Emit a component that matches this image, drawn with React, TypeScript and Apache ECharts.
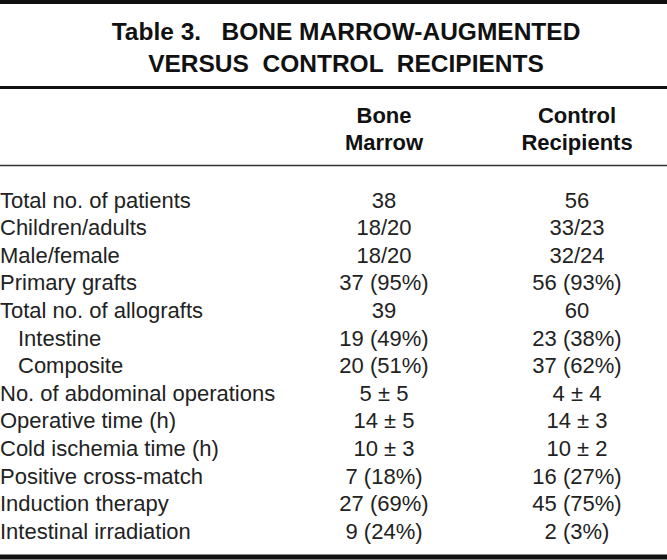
import React, { useEffect, useRef } from "react";
import * as echarts from "echarts";

const titleLines = ["Table 3.   BONE MARROW-AUGMENTED", "VERSUS  CONTROL  RECIPIENTS"];
const columnHeaders = [["Bone", "Marrow"], ["Control", "Recipients"]];
const rowLabels = [
  "Total no. of patients",
  "Children/adults",
  "Male/female",
  "Primary grafts",
  "Total no. of allografts",
  "Intestine",
  "Composite",
  "No. of abdominal operations",
  "Operative time (h)",
  "Cold ischemia time (h)",
  "Positive cross-match",
  "Induction therapy",
  "Intestinal irradiation",
];
const indented = [false, false, false, false, false, true, true, false, false, false, false, false, false];
const boneMarrow = ["38", "18/20", "18/20", "37 (95%)", "39", "19 (49%)", "20 (51%)", "5 ± 5", "14 ± 5", "10 ± 3", "7 (18%)", "27 (69%)", "9 (24%)"];
const control = ["56", "33/23", "32/24", "56 (93%)", "60", "23 (38%)", "37 (62%)", "4 ± 4", "14 ± 3", "10 ± 2", "16 (27%)", "45 (75%)", "2 (3%)"];

export default function App() {
  const ref = useRef<HTMLDivElement>(null);
  useEffect(() => {
    if (!ref.current) return;
    const chart = echarts.init(ref.current, undefined, { renderer: "svg" });
    const W = 667;
    const font = "'Liberation Sans', Arial, Helvetica, sans-serif";
    const col1 = 384;
    const col2 = 577;
    const rowY0 = 200;
    const rowStep = 27.6;
    const elements: any[] = [];
    const hline = (y: number, w: number, color: string) => ({
      type: "line",
      shape: { x1: 0, y1: y, x2: W, y2: y },
      style: { stroke: color, lineWidth: w },
    });
    elements.push(hline(2, 4, "#111"));
    elements.push(hline(87.5, 3, "#111"));
    elements.push(hline(165.5, 1.5, "#333"));
    elements.push(hline(557, 5, "#111"));
    titleLines.forEach((t, i) => {
      elements.push({
        type: "text",
        x: 346,
        y: 31 + i * 32,
        style: {
          text: t,
          fill: "#111",
          font: `bold 24.5px ${font}`,
          textAlign: "center",
          textVerticalAlign: "middle",
        },
      });
    });
    columnHeaders.forEach((h, ci) => {
      h.forEach((t, li) => {
        elements.push({
          type: "text",
          x: ci === 0 ? col1 : col2,
          y: 115 + li * 27,
          style: {
            text: t,
            fill: "#111",
            font: `bold 22px ${font}`,
            textAlign: "center",
            textVerticalAlign: "middle",
          },
        });
      });
    });
    rowLabels.forEach((lab, i) => {
      const y = rowY0 + i * rowStep;
      elements.push({
        type: "text",
        x: indented[i] ? 18 : 0,
        y,
        style: { text: lab, fill: "#222", font: `22px ${font}`, textAlign: "left", textVerticalAlign: "middle" },
      });
      elements.push({
        type: "text",
        x: col1,
        y,
        style: { text: boneMarrow[i], fill: "#222", font: `22px ${font}`, textAlign: "center", textVerticalAlign: "middle" },
      });
      elements.push({
        type: "text",
        x: col2,
        y,
        style: { text: control[i], fill: "#222", font: `22px ${font}`, textAlign: "center", textVerticalAlign: "middle" },
      });
    });
    chart.setOption({ animation: false, graphic: { elements } });
    return () => chart.dispose();
  }, []);
  return (
    <div
      ref={ref}
      style={{ position: "fixed", left: 0, top: 0, width: 667, height: 560, background: "#fff" }}
    />
  );
}
